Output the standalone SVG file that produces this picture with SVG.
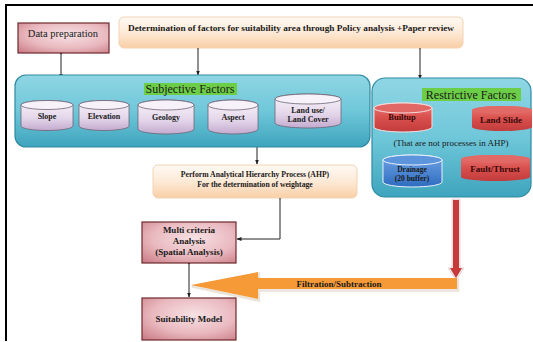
<svg xmlns="http://www.w3.org/2000/svg" width="533" height="342" viewBox="0 0 533 342">
<defs>
<linearGradient id="peach" x1="0" y1="0" x2="0" y2="1"><stop offset="0" stop-color="#fffaf4"/><stop offset="0.5" stop-color="#fde9d6"/><stop offset="1" stop-color="#f9cfa6"/></linearGradient>
<radialGradient id="pink" cx="0.55" cy="0.4" r="0.8"><stop offset="0" stop-color="#f7e1e4"/><stop offset="0.55" stop-color="#e9b9bf"/><stop offset="1" stop-color="#c97983"/></radialGradient>
<linearGradient id="teal" x1="0" y1="0" x2="0" y2="1"><stop offset="0" stop-color="#8fd6e4"/><stop offset="0.5" stop-color="#6fc7d9"/><stop offset="1" stop-color="#3ea4bd"/></linearGradient>
<linearGradient id="lav" x1="0" y1="0" x2="0" y2="1"><stop offset="0" stop-color="#faf5fb"/><stop offset="0.6" stop-color="#e3d5e9"/><stop offset="1" stop-color="#c3aacf"/></linearGradient>
<linearGradient id="red" x1="0" y1="0" x2="0" y2="1"><stop offset="0" stop-color="#e97c78"/><stop offset="0.5" stop-color="#d9504d"/><stop offset="1" stop-color="#c23c3c"/></linearGradient>
<linearGradient id="blue" x1="0" y1="0" x2="0" y2="1"><stop offset="0" stop-color="#6fa3e3"/><stop offset="1" stop-color="#2f6cc0"/></linearGradient>
<marker id="ah" viewBox="0 0 10 10" refX="9" refY="5" markerWidth="5" markerHeight="5" orient="auto"><path d="M0,1 L10,5 L0,9 Z" fill="#222"/></marker>
<marker id="dot" viewBox="0 0 10 10" refX="5" refY="5" markerWidth="3" markerHeight="3"><circle cx="5" cy="5" r="4" fill="#222"/></marker>
</defs>
<style>
text{font-family:"Liberation Serif","Times New Roman",serif;fill:#1a1a1a;text-anchor:middle}
.b{font-weight:bold}
.pk{fill:url(#pink);stroke:#6e2a2e;stroke-width:1.2}
.pe{fill:url(#peach);stroke:#f1d3b4;stroke-width:1}
.ct{fill:url(#teal);stroke:#2f8aa3;stroke-width:1.2}
.cl{fill:url(#lav);stroke:#6f6476;stroke-width:0.8}
.ctop{fill:#f7f1f9;stroke:#6f6476;stroke-width:0.8}
.cr{fill:url(#red);stroke:#f4dede;stroke-width:1}
.crt{fill:#e26865;stroke:#f4dede;stroke-width:1}
.cb{fill:url(#blue);stroke:#e8f0fa;stroke-width:1}
.cbt{fill:#5c95dc;stroke:#e8f0fa;stroke-width:1}
.ln{fill:none;stroke:#222;stroke-width:1;marker-end:url(#ah);marker-start:url(#dot)}
.hl{fill:#6ccd47}
.dk{fill:#3a0a0a}
</style>
<g id="frame"><path d="M6,5 H533 M6,4 V341" fill="none" stroke="#000" stroke-width="2"/></g>

<g id="connectors">
<path class="ln" d="M61,53 V78"/>
<path class="ln" d="M198,48 V75"/>
<path class="ln" d="M420,48 V79"/>
<path class="ln" d="M257,140 V164"/>
<path class="ln" d="M280,198 V239 H237"/>
<path class="ln" d="M189,263 V297"/>
<g id="red-arrow">
<path d="M452,199 H460 V268 H464 L456,280 L448,268 H452 Z" fill="#f2e6e6" stroke="#e8d8d8" stroke-width="1"/>
<path d="M453,200 H459 V268 H462 L456,278 L450,268 H453 Z" fill="#c8393c"/>
</g>
<g id="orange-arrow">
<path d="M191,285 L258,272 V278 H457 V289 H258 V299 Z" fill="none" stroke="#e9e3da" stroke-width="2.5" transform="translate(1,1.5)"/>
<path d="M191,285 L258,272 V278 H457 V289 H258 V299 Z" fill="#f59a37"/>
<text class="b" x="339" y="286.5" font-size="9">Filtration/Subtraction</text>
</g>
</g>

<g id="data-prep"><rect class="pk" x="18" y="23" width="91" height="30"/><text x="63" y="37" font-size="10.5">Data preparation</text></g>

<g id="determination"><rect class="pe" x="119" y="17" width="344" height="31" rx="5"/><text class="b" x="291" y="31" font-size="8.6" textLength="326" lengthAdjust="spacingAndGlyphs">Determination of factors for suitability area through Policy analysis +Paper review</text></g>

<g id="subjective">
<rect class="ct" x="15" y="75" width="355" height="72" rx="11"/>
<rect class="hl" x="144" y="83" width="93" height="12"/>
<text x="190" y="93" font-size="12">Subjective Factors</text>
</g>
<g id="slope"><path class="cl" d="M21,105 A26,4.5 0 0 1 73,105 V126 A26,4.5 0 0 1 21,126 Z"/><ellipse class="ctop" cx="47" cy="105" rx="26" ry="4.5"/><text class="b" x="47" y="119" font-size="8">Slope</text></g>
<g id="elevation"><path class="cl" d="M79,105 A25,4.5 0 0 1 129,105 V126 A25,4.5 0 0 1 79,126 Z"/><ellipse class="ctop" cx="104" cy="105" rx="25" ry="4.5"/><text class="b" x="104" y="119" font-size="8">Elevation</text></g>
<g id="geology"><path class="cl" d="M138,105 A28,5 0 0 1 194,105 V129 A28,5 0 0 1 138,129 Z"/><ellipse class="ctop" cx="166" cy="105" rx="28" ry="5"/><text class="b" x="166" y="120" font-size="8">Geology</text></g>
<g id="aspect"><path class="cl" d="M208,105 A25,5 0 0 1 258,105 V129 A25,5 0 0 1 208,129 Z"/><ellipse class="ctop" cx="233" cy="105" rx="25" ry="5"/><text class="b" x="233" y="120" font-size="8">Aspect</text></g>
<g id="landuse"><path class="cl" d="M275,99 A33,5 0 0 1 341,99 V123 A33,5 0 0 1 275,123 Z"/><ellipse class="ctop" cx="308" cy="99" rx="33" ry="5"/><text class="b" x="308" y="113" font-size="8">Land use/</text><text class="b" x="308" y="122" font-size="8">Land Cover</text></g>

<g id="restrictive">
<rect class="ct" x="372" y="78" width="159" height="119" rx="13"/>
<rect class="hl" x="422" y="88" width="99" height="13"/>
<text x="471" y="99" font-size="12">Restrictive Factors</text>
<text x="451" y="146" font-size="9">(That are not processes in AHP)</text>
</g>
<g id="builtup"><path class="cr" d="M374,108 A29,5 0 0 1 432,108 V127 A29,5 0 0 1 374,127 Z"/><ellipse class="crt" cx="403" cy="108" rx="29" ry="5"/><text class="b dk" x="402" y="120" font-size="8.5">Builtup</text></g>
<g id="landslide"><path d="M472,110 A30,4 0 0 1 532,110 V127 A30,4 0 0 1 472,127 Z" fill="url(#red)"/><ellipse cx="502" cy="110" rx="30" ry="4" fill="#e16a66"/><text class="b dk" x="501" y="123" font-size="9">Land Slide</text></g>
<g id="drainage"><path class="cb" d="M383,160 A29.5,5 0 0 1 442,160 V182 A29.5,5 0 0 1 383,182 Z"/><ellipse class="cbt" cx="412.5" cy="160" rx="29.5" ry="5"/><text class="b" x="412" y="172" font-size="7.5" fill="#0d1f3a">Drainage</text><text class="b" x="412" y="181" font-size="7.5" fill="#0d1f3a">(20  buffer)</text></g>
<g id="fault"><path d="M461,159 A34.5,4 0 0 1 530,159 V177 A34.5,4 0 0 1 461,177 Z" fill="url(#red)"/><ellipse cx="495.5" cy="159" rx="34.5" ry="4" fill="#e16a66"/><text class="b dk" x="495" y="172" font-size="9">Fault/Thrust</text></g>

<g id="ahp"><rect class="pe" x="153" y="165" width="204" height="33" rx="5"/><text class="b" x="255" y="177" font-size="7.7">Perform Analytical Hierarchy Process (AHP)</text><text class="b" x="255" y="187" font-size="7.7">For the determination of weightage</text></g>

<g id="mca"><rect class="pk" x="142" y="222" width="94" height="41"/><text class="b" x="189" y="233" font-size="9">Multi criteria</text><text class="b" x="189" y="243.5" font-size="9">Analysis</text><text class="b" x="189" y="254.5" font-size="9">(Spatial Analysis)</text></g>

<g id="suitability"><rect class="pk" x="142" y="298" width="94" height="42"/><text class="b" x="189" y="321.5" font-size="9">Suitability Model</text></g>
</svg>
